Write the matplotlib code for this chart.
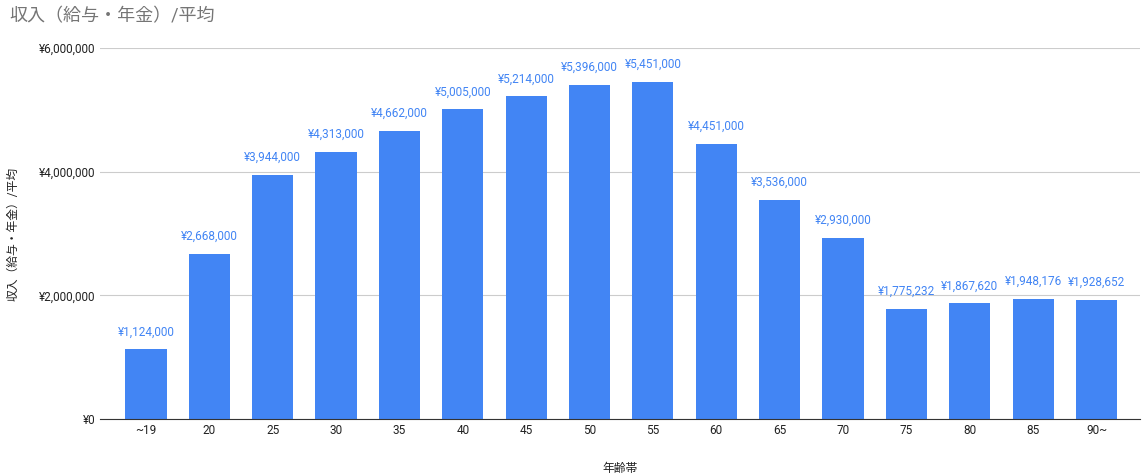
import matplotlib
matplotlib.use("Agg")
import matplotlib.pyplot as plt
from matplotlib.ticker import FuncFormatter

plt.rcParams['font.family'] = ['Roboto', 'Noto Sans CJK JP', 'DejaVu Sans']

categories = ["~19", "20", "25", "30", "35", "40", "45", "50", "55", "60", "65", "70", "75", "80", "85", "90~"]
values = [1124000, 2668000, 3944000, 4313000, 4662000, 5005000, 5214000, 5396000, 5451000,
          4451000, 3536000, 2930000, 1775232, 1867620, 1948176, 1928652]
yticks = [0, 2000000, 4000000, 6000000]

fig = plt.figure(figsize=(11.43, 4.74), dpi=100)
ax = fig.add_axes([0.0875, 0.116, 0.9095, 0.783])
x = range(len(categories))
ax.bar(x, values, width=0.65, color='#4285F4', zorder=2)
for i, v in zip(x, values):
    ax.text(i, v + 180000, f"¥{v:,}", ha='center', va='bottom', fontsize=8.5, color='#4285F4')
ax.set_xlim(-0.725, 15.68)
ax.set_ylim(0, 6000000)
ax.set_yticks(yticks)
ax.yaxis.set_major_formatter(FuncFormatter(lambda v, p: f"¥{int(v):,}"))
ax.set_xticks(list(x))
ax.set_xticklabels(categories)
ax.tick_params(axis='both', length=0, labelsize=8.5, colors='#222222')
ax.grid(axis='y', color='#cccccc', linewidth=0.8, zorder=0)
for s in ['top', 'right', 'left']:
    ax.spines[s].set_visible(False)
ax.spines['bottom'].set_color('#333333')
ax.set_xlabel("年齢帯", fontsize=8.5, labelpad=18, color='#222222')
ax.set_ylabel("収入（給与・年金）/平均", fontsize=8.5, labelpad=14, color='#222222')
fig.text(0.008, 0.965, "収入（給与・年金）/平均", fontsize=13, color='#757575', va='center', ha='left')
fig.savefig("out.png", dpi=100)
